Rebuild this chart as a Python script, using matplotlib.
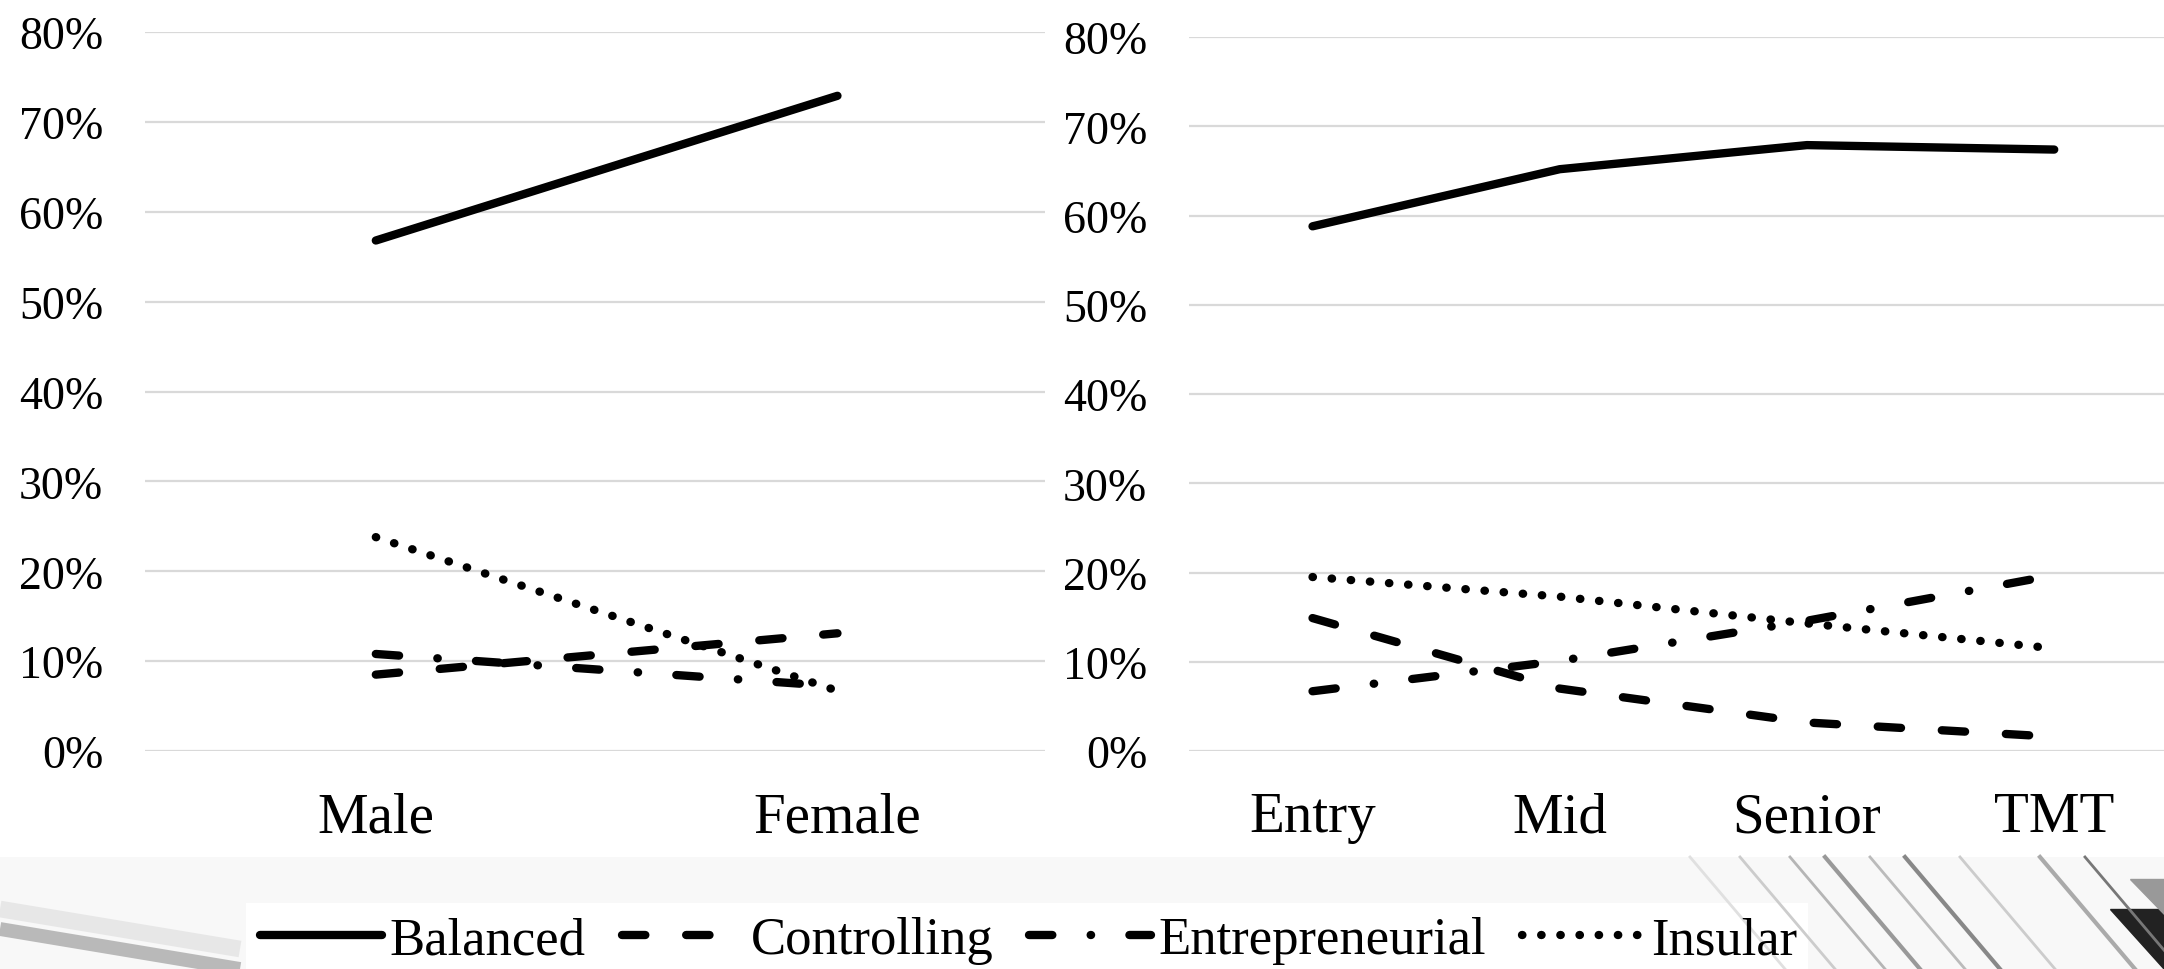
import numpy as np
import matplotlib
matplotlib.use("Agg")
import matplotlib.pyplot as plt
from matplotlib.patches import Rectangle

plt.rcParams['font.family'] = ['Liberation Serif', 'DejaVu Serif']

# data (percent)
gender_cats = ['Male', 'Female']
gender_balanced = [56.8, 72.9]
gender_controlling = [8.5, 13.1]
gender_entrepreneurial = [10.8, 7.2]
gender_insular = [23.8, 6.7]

level_cats = ['Entry', 'Mid', 'Senior', 'TMT']
level_balanced = [58.8, 65.2, 67.9, 67.4]
level_controlling = [14.9, 7.0, 3.2, 1.6]
level_entrepreneurial = [6.7, 10.1, 14.6, 19.7]
level_insular = [19.5, 17.3, 14.3, 11.5]

series_names = ['Balanced', 'Controlling', 'Entrepreneurial', 'Insular']
yticks = [0, 10, 20, 30, 40, 50, 60, 70, 80]

styles = {
    'Balanced': dict(linestyle='-'),
    'Controlling': dict(linestyle=(0, (2.8, 4.9))),
    'Entrepreneurial': dict(linestyle=(0, (2.8, 4.6, 0.05, 4.6))),
    'Insular': dict(linestyle=(0, (0.05, 2.25))),
}

fig = plt.figure(figsize=(21.64, 9.70), dpi=100)
fig.patch.set_facecolor('white')

# faint photo-like strip behind the legend
bg = fig.add_axes([0, 0, 1, 1], zorder=-10)
bg.set_xlim(0, 2164)
bg.set_ylim(0, 970)
bg.axis('off')
bg.fill_between([0, 2164], 0, 112, color='#f8f8f8', lw=0)
bg.plot([0, 240], [60, 20], color='#dddddd', lw=12, alpha=0.6, solid_capstyle='butt')
bg.plot([0, 240], [40, 0], color='#909090', lw=10, alpha=0.6, solid_capstyle='butt')
for x0, w, c in [(1690, 2, '#e0e0e0'), (1740, 2, '#cccccc'), (1790, 2, '#b5b5b5'),
                 (1825, 3, '#999999'), (1870, 2, '#bbbbbb'), (1905, 3, '#888888'),
                 (1960, 2, '#cccccc'), (2040, 3, '#aaaaaa'), (2085, 2, '#777777')]:
    bg.plot([x0, x0 + 95], [112, 0], color=c, lw=w)
bg.fill([2110, 2164, 2164], [60, 60, 0], color='#222222')
bg.fill([2130, 2164, 2164], [90, 90, 55], color='#999999')
bg.add_patch(Rectangle((246, 0), 1562, 66, color='white', lw=0))


def draw_panel(ax, cats, data, xlim):
    x = np.arange(len(cats))
    for name, vals in zip(series_names, data):
        ax.plot(x, vals, color='black', lw=6, label=name,
                dash_capstyle='round', solid_capstyle='round', **styles[name])
    ax.set_ylim(0, 80)
    ax.set_xlim(*xlim)
    ax.set_yticks(yticks)
    ax.set_yticklabels([f'{v}%' for v in yticks])
    ax.set_xticks(x)
    ax.set_xticklabels(cats)
    ax.grid(axis='y', color='#d9d9d9', lw=1.6)
    ax.set_axisbelow(True)
    for s in ax.spines.values():
        s.set_visible(False)
    ax.tick_params(axis='y', length=0, pad=30, labelsize=33)
    ax.tick_params(axis='x', length=0, pad=29, labelsize=41)
    ax.set_facecolor('none')


ax1 = fig.add_axes([0.067, 0.2247, 0.416, 0.7413])
draw_panel(ax1, gender_cats,
           [gender_balanced, gender_controlling, gender_entrepreneurial, gender_insular],
           (-0.5, 1.45))

ax2 = fig.add_axes([0.5494, 0.2247, 0.457, 0.736])
draw_panel(ax2, level_cats,
           [level_balanced, level_controlling, level_entrepreneurial, level_insular],
           (-0.5, 3.5))

handles, labels = ax1.get_legend_handles_labels()
fig.legend(handles, labels, loc='lower center', bbox_to_anchor=(0.4755, 0.002),
           ncol=4, fontsize=38, frameon=False,
           handlelength=2.3, handletextpad=0.15, columnspacing=0.68,
           borderpad=0.05, borderaxespad=0)

fig.savefig('out.png', dpi=100)
